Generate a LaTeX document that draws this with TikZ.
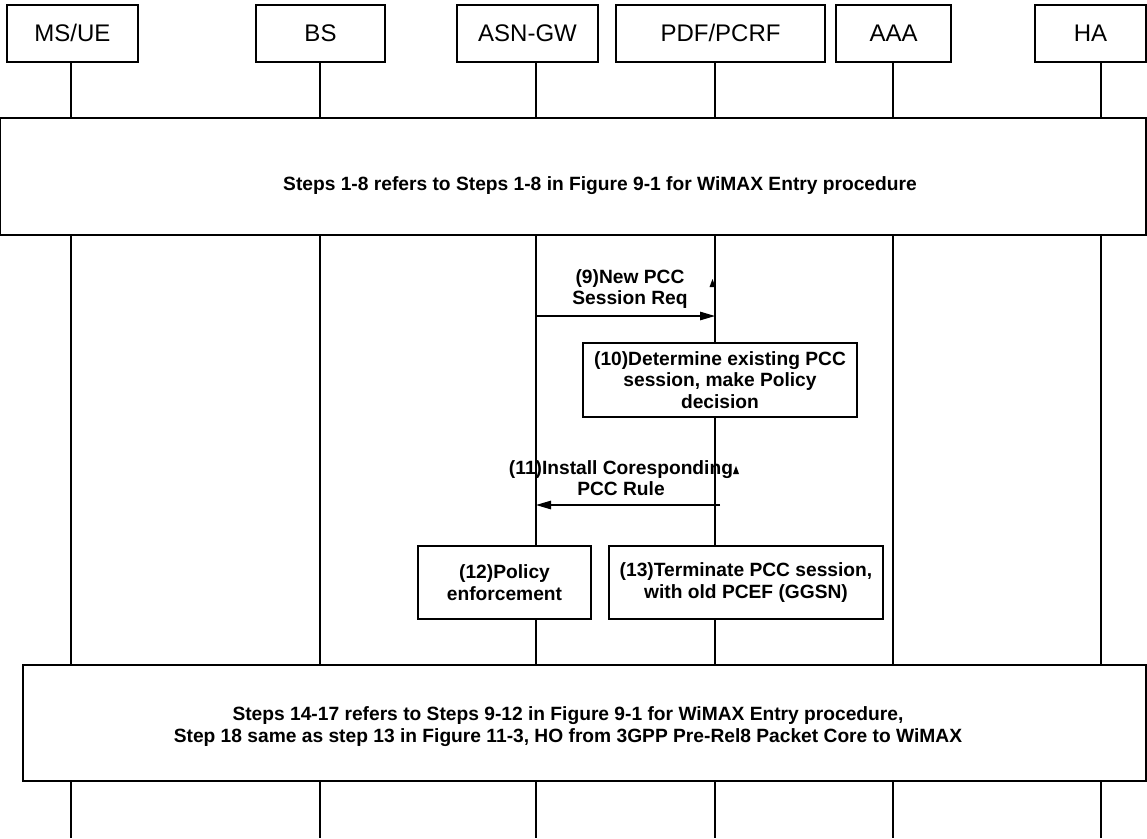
\documentclass[tikz,border=0pt]{standalone}
\usepackage{fontspec}
\setmainfont{Liberation Sans}
\usetikzlibrary{arrows.meta}
\begin{document}
\begin{tikzpicture}[x=1pt,y=-1pt,
  line/.style={line width=1.2pt},
  hdr/.style={draw, line width=1.2pt, fill=white, inner sep=0pt, minimum height=57pt,
    text height=18.5pt, text depth=2.5pt,
    font=\fontsize{24}{26}\selectfont},
  bigbox/.style={draw, line width=1.2pt, fill=white, inner sep=0pt},
  btxt/.style={font=\bfseries\fontsize{19.2}{21.5}\selectfont, align=center, inner sep=0pt},
  msg/.style={line width=1.2pt, -{Triangle[length=15pt,width=8.5pt]}},
  tick/.style={fill=black}
]
\useasboundingbox (0,0) rectangle (1147,838);

% header boxes
\node[hdr, minimum width=131pt] (ms)  at (72.5,33.5)  {MS/UE};
\node[hdr, minimum width=129pt] (bs)  at (320.5,33.5) {BS};
\node[hdr, minimum width=141pt] (asn) at (527.5,33.5) {ASN-GW};
\node[hdr, minimum width=209pt] (pdf) at (720.5,33.5) {PDF/PCRF};
\node[hdr, minimum width=115pt] (aaa) at (893.5,33.5) {AAA};
\node[hdr, minimum width=111pt] (ha)  at (1090.5,33.5){HA};

% lifeline ends
\coordinate (msE)  at (71,838);
\coordinate (bsE)  at (320,838);
\coordinate (asnE) at (536,838);
\coordinate (pdfE) at (715,838);
\coordinate (aaaE) at (893,838);
\coordinate (haE)  at (1101,838);

\draw[line] (ms.south -| msE) -- (msE);
\draw[line] (bs.south -| bsE) -- (bsE);
\draw[line] (asn.south -| asnE) -- (asnE);
\draw[line] (pdf.south -| pdfE) -- (pdfE);
\draw[line] (aaa.south -| aaaE) -- (aaaE);
\draw[line] (ha.south -| haE) -- (haE);

% big box 1
\node[bigbox, minimum width=1145.3pt, minimum height=117pt] (b1) at (573.35,176.5) {};
\node[btxt] (t1) at (600,186) {Steps 1-8 refers to Steps 1-8 in Figure 9-1 for WiMAX Entry procedure};

% message 9
\coordinate (m9s) at (536,316);
\coordinate (m9e) at (715,316);
\draw[msg] (m9s) -- (m9e);
\node[btxt] (l9) at (630,289) {(9)New PCC\\Session Req};
\fill[tick] (709.5,287) -- (715.5,287) -- (712.5,279) -- cycle;

% box 10
\node[bigbox, btxt, minimum width=274pt, minimum height=74pt] (b10) at (720,380)
  {(10)Determine existing PCC\\session, make Policy\\decision};

% message 11
\coordinate (m11s) at (720,505);
\coordinate (m11e) at (536,505);
\draw[msg] (m11s) -- (m11e);
\node[btxt] (l11) at (621,478) {(11)Install Coresponding\\PCC Rule};
\fill[tick] (733,474) -- (739,474) -- (736,466) -- cycle;

% boxes 12, 13
\node[bigbox, btxt, minimum width=173pt, minimum height=73pt] (b12) at (504.5,582.5)
  {(12)Policy\\enforcement};
\node[bigbox, btxt, minimum width=274pt, minimum height=73pt] (b13) at (746,582.5)
  {(13)Terminate PCC session,\\with old PCEF (GGSN)};

% big box 2
\node[bigbox, minimum width=1123pt, minimum height=116pt] (b2) at (584.5,723) {};
\node[btxt] (t2) at (568,726.5) {Steps 14-17 refers to Steps 9-12 in Figure 9-1 for WiMAX Entry procedure,\\Step 18 same as step 13 in Figure 11-3, HO from 3GPP Pre-Rel8 Packet Core to WiMAX};
\end{tikzpicture}
\end{document}
